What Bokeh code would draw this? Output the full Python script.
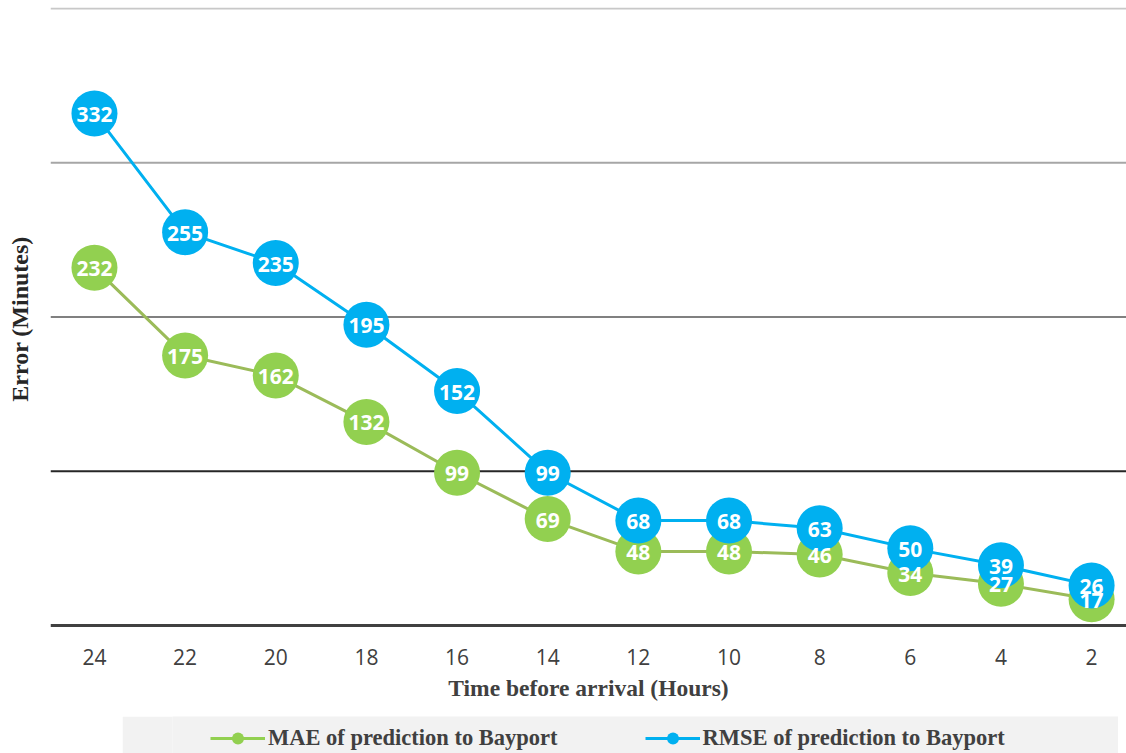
from bokeh.plotting import figure
from bokeh.layouts import column
from bokeh.models import Range1d, FixedTicker, Span, Legend, LegendItem, ColumnDataSource
from bokeh.core.properties import value
from bokeh.embed import file_html
from bokeh.resources import INLINE

hours = [24, 22, 20, 18, 16, 14, 12, 10, 8, 6, 4, 2]
mae = [232, 175, 162, 132, 99, 69, 48, 48, 46, 34, 27, 17]
rmse = [332, 255, 235, 195, 152, 99, 68, 68, 63, 50, 39, 26]
grid_values = [0, 100, 200, 300, 400]
grid_colors = ["#404040", "#262626", "#808080", "#a6a6a6", "#c8c8c8"]
grid_widths = [3, 2, 2, 2, 2]
series_names = ["MAE of prediction to Bayport", "RMSE of prediction to Bayport"]

GREEN_LINE = "#9bbb59"
GREEN = "#92d050"
BLUE = "#00b0f0"

p = figure(width=1126, height=716, output_backend="svg", toolbar_location=None,
           x_range=Range1d(24.97, 1.23), y_range=Range1d(-3.25, 400.65),
           min_border_left=50, min_border_right=0, min_border_top=7,
           min_border_bottom=86)
p.outline_line_color = None
p.xgrid.visible = False
p.ygrid.visible = False

for v, c, w in zip(grid_values, grid_colors, grid_widths):
    p.add_layout(Span(location=v, dimension="width", line_color=c,
                      line_width=w, level="underlay"))

src_m = ColumnDataSource(dict(x=hours, y=mae, t=[str(v) for v in mae]))
src_r = ColumnDataSource(dict(x=hours, y=rmse, t=[str(v) for v in rmse]))

p.line("x", "y", source=src_m, line_color=GREEN_LINE, line_width=3)
p.line("x", "y", source=src_r, line_color=BLUE, line_width=3)
p.scatter("x", "y", source=src_m, size=46, fill_color=GREEN, line_color=None)
p.scatter("x", "y", source=src_r, size=46, fill_color=BLUE, line_color=None)
for src in (src_m, src_r):
    p.text("x", "y", text="t", source=src, text_color="white",
           text_font=value("Open Sans"), text_font_style="bold",
           text_font_size="21px", text_align="center", text_baseline="middle",
           y_offset=1)

# x axis
p.xaxis.ticker = FixedTicker(ticks=hours)
p.xaxis.axis_line_color = None
p.xaxis.major_tick_line_color = None
p.xaxis.minor_tick_line_color = None
p.xaxis.major_label_text_font = "Open Sans"
p.xaxis.major_label_text_font_size = "21px"
p.xaxis.major_label_text_color = "#404040"
p.xaxis.major_label_standoff = 12
p.xaxis.axis_label = "Time before arrival (Hours)"
p.xaxis.axis_label_text_font = "Liberation Serif"
p.xaxis.axis_label_text_font_style = "bold"
p.xaxis.axis_label_text_font_size = "23.5px"
p.xaxis.axis_label_text_color = "#404040"
p.xaxis.axis_label_standoff = 7

# y axis
p.yaxis.ticker = FixedTicker(ticks=[])
p.yaxis.axis_line_color = None
p.yaxis.major_tick_line_color = None
p.yaxis.minor_tick_line_color = None
p.yaxis.axis_label = "Error (Minutes)"
p.yaxis.axis_label_text_font = "Liberation Serif"
p.yaxis.axis_label_text_font_style = "bold"
p.yaxis.axis_label_text_font_size = "24px"
p.yaxis.axis_label_text_color = "#262626"
p.yaxis.axis_label_standoff = 18

# legend band (separate small figure below the chart); the series drawn here
# fall outside its 0..1 ranges, so only their legend glyphs show
lg = figure(width=996, height=37, output_backend="svg", toolbar_location=None,
            x_range=Range1d(0, 1), y_range=Range1d(0, 1),
            x_axis_type=None, y_axis_type=None,
            min_border_left=0, min_border_right=0, min_border_top=0, min_border_bottom=0,
            background_fill_color="#f2f2f2", border_fill_color="#f2f2f2",
            margin=(0, 0, 0, 122))
lg.outline_line_color = None
glm = lg.line("x", "y", source=src_m, line_color=GREEN, line_width=3)
gcm = lg.scatter("x", "y", source=src_m, fill_color=GREEN, line_color=None)
glr = lg.line("x", "y", source=src_r, line_color=BLUE, line_width=3)
gcr = lg.scatter("x", "y", source=src_r, fill_color=BLUE, line_color=None)

legend = Legend(items=[LegendItem(label=series_names[0], renderers=[glm, gcm]),
                       LegendItem(label=series_names[1], renderers=[glr, gcr])],
                location=(38, 0), orientation="horizontal",
                glyph_width=55, glyph_height=30, label_standoff=3,
                spacing=87, padding=0, margin=0, border_line_color=None,
                background_fill_alpha=0,
                label_text_font="Liberation Serif", label_text_font_style="bold",
                label_text_font_size="22.5px", label_text_color="#404040")
lg.add_layout(legend, "center")

layout = column(p, lg, spacing=0)
open("out.html", "w").write(file_html(layout, INLINE))
